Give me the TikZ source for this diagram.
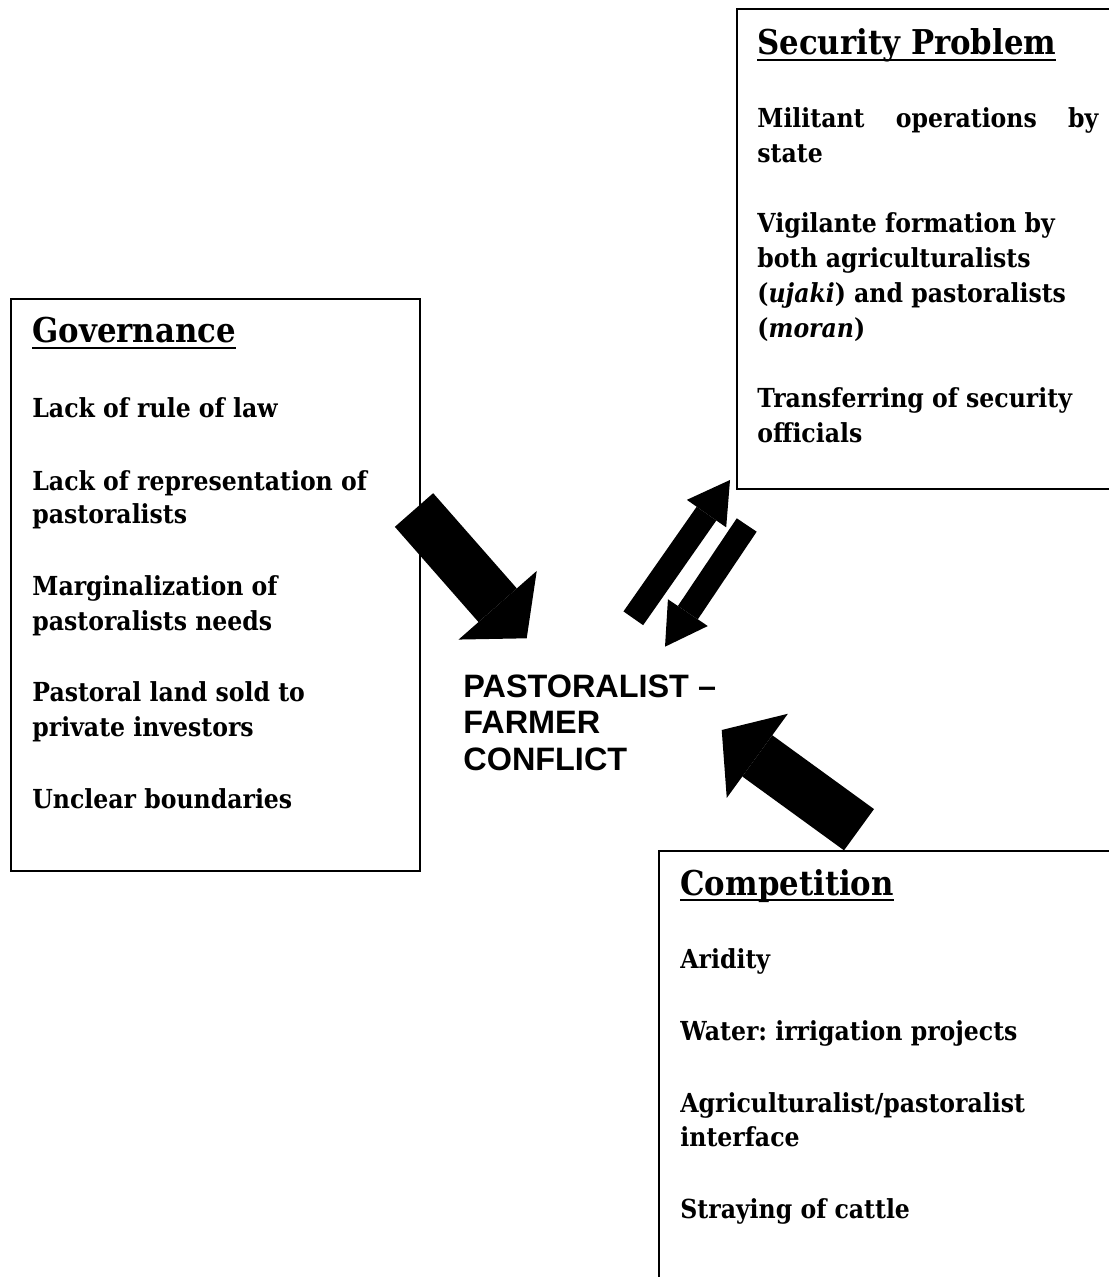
\documentclass[tikz,border=0pt]{standalone}
\usepackage{fontspec}
\setmainfont[FakeStretch=0.9]{DejaVu Serif}
\newfontfamily\centrefont{Liberation Sans}
\usetikzlibrary{arrows.meta}
\frenchspacing

\newcommand{\ulhead}[1]{\setbox0\hbox{#1}\rlap{\rule[-3pt]{\wd0}{1pt}}\box0}

\tikzset{
  panel/.style={draw, line width=1pt, anchor=north west, inner sep=0pt},
  heading/.style={font=\fontsize{17.1}{20}\selectfont\bfseries, anchor=base west, inner sep=0pt},
  itemtext/.style={font=\fontsize{13.1}{17}\selectfont\bfseries, anchor=base west, inner sep=0pt},
  centretext/.style={font=\fontsize{16.2}{18.25}\selectfont\centrefont\bfseries, anchor=base west, inner sep=0pt},
  bigarrow/.style={line width=25.5pt, -{Triangle[width=52pt,length=22pt,line width=0pt]}},
  thinarrow/.style={line width=12pt, -{Triangle[width=24pt,length=20.5pt,line width=0pt]}}
}

\begin{document}
\begin{tikzpicture}[x=0.5pt,y=-0.5pt]
        \useasboundingbox (0,0) rectangle (1108,1277);

        % Boxes
        \node[panel, minimum width=204.5pt, minimum height=286pt] (govbox) at (10,298) {};
        \node[panel, minimum width=195pt, minimum height=240pt] (secbox) at (736,8) {};
        \node[panel, minimum width=235pt, minimum height=225pt] (compbox) at (658,850) {};

        % Headings
        \node[heading] (govhead) at (32,343) {\ulhead{Governance}};
        \node[heading] (sechead) at (757,55) {\ulhead{Security Problem}};
        \node[heading] (comphead) at (680,895) {\ulhead{Competition}};

        % Causes
        \node[itemtext] (govitems) at (32,418) {\parbox[t]{195pt}{%
            Lack of rule of law\\[19pt]
            Lack of representation of\\ pastoralists\\[19pt]
            Marginalization of\\ pastoralists needs\\[19pt]
            Pastoral land sold to\\ private investors\\[19pt]
            Unclear boundaries}};
        \node[itemtext, font=\fontsize{13.1}{17.5}\selectfont\bfseries] (secitems) at (757,128) {\parbox[t]{195pt}{%
            \makebox[170.5pt][s]{Militant operations by}\\ state\\[17.5pt]
            Vigilante formation by\\ both agriculturalists\\
            (\textit{ujaki}) and pastoralists\\ (\textit{moran})\\[17.5pt]
            Transferring of security\\ officials}};
        \node[itemtext] (compitems) at (680,968) {\parbox[t]{200pt}{%
            Aridity\\[19pt]
            Water: irrigation projects\\[19pt]
            Agriculturalist/pastoralist\\ interface\\[19pt]
            Straying of cattle}};

        % Centre
        \node[centretext] (conflict) at (463,697) {\parbox[t]{200pt}{PASTORALIST –\\ FARMER\\ CONFLICT}};

        % Arrows
        \coordinate (govtail) at (414,510);
        \coordinate (govtip) at (526.7,638.3);
        \coordinate (uptail) at (633.3,618.3);
        \coordinate (uptip) at (730,480);
        \coordinate (downtail) at (746.7,525);
        \coordinate (downtip) at (665,646.7);
        \coordinate (comptail) at (859,829.7);
        \coordinate (comptip) at (721.7,730);
        \draw[bigarrow] (govtail) -- (govtip);
        \draw[thinarrow] (uptail) -- (uptip);
        \draw[thinarrow] (downtail) -- (downtip);
        \draw[bigarrow] (comptail) -- (comptip);
\end{tikzpicture}
\end{document}
